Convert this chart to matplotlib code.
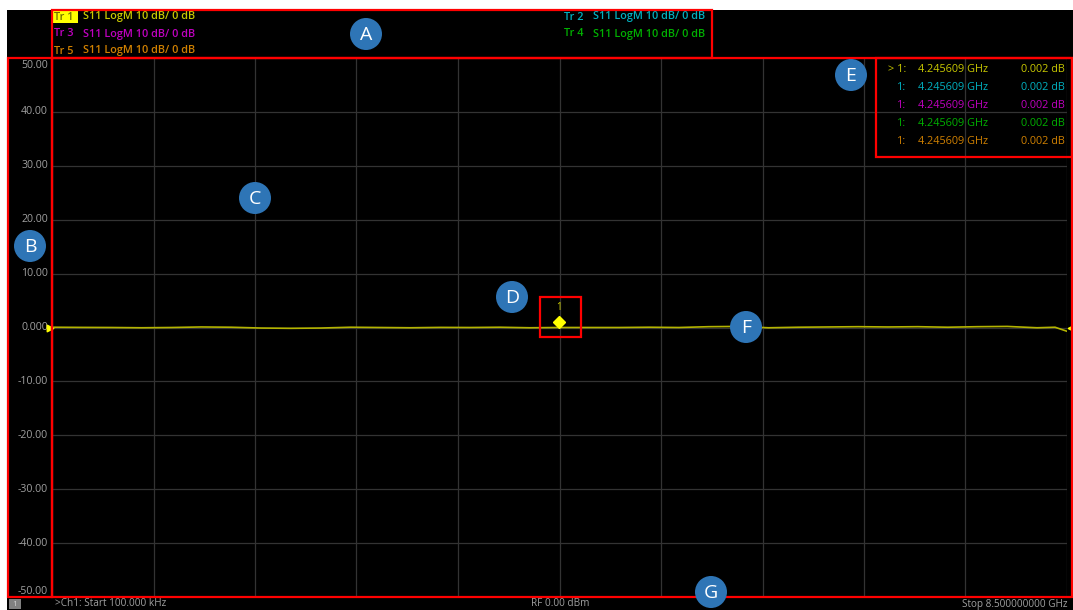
import matplotlib
matplotlib.use("Agg")
import matplotlib.pyplot as plt
from matplotlib.patches import Rectangle, Circle
from matplotlib.transforms import offset_copy

plt.rcParams["font.family"] = ["Open Sans", "DejaVu Sans"]

W, H = 1073, 610

# trace data (S11 LogM, dB)
freq_ghz = [0.0001, 0.25, 0.5, 0.75, 1.0, 1.25, 1.5, 1.75, 2.0, 2.25, 2.5, 2.75,
            3.0, 3.25, 3.5, 3.75, 4.0, 4.245609, 4.5, 4.75, 5.0, 5.25, 5.5, 5.75,
            6.0, 6.25, 6.5, 6.75, 7.0, 7.25, 7.5, 7.75, 8.0, 8.25, 8.4, 8.5]
s11_db = [0.05, 0.02, 0.0, -0.05, 0.0, 0.1, 0.05, -0.1, -0.15, -0.1, 0.05, 0.0,
          -0.05, 0.02, 0.0, 0.05, -0.05, 0.002, 0.0, 0.0, 0.05, 0.0, 0.15, 0.2,
          -0.05, 0.05, 0.1, 0.15, 0.1, 0.15, 0.05, 0.15, 0.2, -0.05, 0.05, -0.7]

y_ticks = [50, 40, 30, 20, 10, 0, -10, -20, -30, -40, -50]
y_labels = ["50.00", "40.00", "30.00", "20.00", "10.00", "0.000",
            "-10.00", "-20.00", "-30.00", "-40.00", "-50.00"]

traces = ["Tr 1", "Tr 2", "Tr 3", "Tr 4", "Tr 5"]
trace_colors = ["#c8c800", "#00b0c0", "#c000c0", "#00b000", "#d08000"]
trace_desc = "S11 LogM 10 dB/ 0 dB"

marker_freq = "4.245609 GHz"
marker_val = "0.002 dB"

tags = ["A", "B", "C", "D", "E", "F", "G"]
tag_xy = [(366, 34), (30, 246), (255, 198), (512, 297), (851, 75), (746, 327), (711, 592)]

fig = plt.figure(figsize=(W / 100, H / 100), dpi=100)
fig.patch.set_facecolor("white")

# black instrument panel behind everything
panel = fig.add_axes([0, 0, 1, 1], zorder=-1)
panel.set_xlim(0, W)
panel.set_ylim(H, 0)
panel.axis("off")
panel.add_patch(Rectangle((7, 10), W - 7, H - 10, facecolor="black", edgecolor="none"))

# main plot
x0, x1, y0, y1 = 52, 1067, 58, 597
ax = fig.add_axes([x0 / W, (H - y1) / H, (x1 - x0) / W, (y1 - y0) / H])
ax.set_facecolor("black")
ax.set_xlim(0, 8.5)
ax.set_ylim(-50, 50)
ax.set_xticks([i * 0.85 for i in range(11)])
ax.set_yticks(y_ticks)
ax.grid(True, color="#333333", lw=0.9)
ax.tick_params(length=0, labelbottom=False, labelleft=False)
for s in ax.spines.values():
    s.set_visible(False)
ax.plot(freq_ghz, s11_db, color="#b4b400", lw=1.2, solid_joinstyle="round")

# marker 1
mk = offset_copy(ax.transData, fig=fig, x=0, y=5, units="dots")
ax.plot([4.245609], [0.002], marker="D", ms=6, color="#ffff00", transform=mk, clip_on=False)
ax.text(4.245609, 0.002, "1", transform=offset_copy(ax.transData, fig=fig, x=0, y=20, units="dots"),
        ha="center", va="center", fontsize=7, color="#c8c800")

# overlay axes in pixel coordinates
bg = fig.add_axes([0, 0, 1, 1], zorder=3)
bg.set_xlim(0, W)
bg.set_ylim(H, 0)
bg.axis("off")

# y tick labels
for v, lab in zip(y_ticks, y_labels):
    py = y1 - (v + 50) / 100 * (y1 - y0)
    if v == 50:
        py += 7
    elif v == -50:
        py -= 5
    bg.text(48, py, lab, ha="right", va="center", fontsize=7.6, color="#a0a0a0")

# reference level arrows
yref = y1 - 0.5 * (y1 - y0)
bg.scatter([50], [yref], marker=">", s=22, color="#ffff00", zorder=5)
bg.scatter([1071], [yref], marker="<", s=22, color="#ffff00", zorder=5)

# trace legend
fs = 7.8
rows = [(traces[0], trace_colors[0], 54, 17), (traces[2], trace_colors[2], 54, 34),
        (traces[4], trace_colors[4], 54, 51), (traces[1], trace_colors[1], 564, 17),
        (traces[3], trace_colors[3], 564, 34)]
for name, col, lx, ly in rows:
    if name == "Tr 1":
        bg.add_patch(Rectangle((52, 11), 26, 12, facecolor="#ffff00", edgecolor="none"))
        bg.text(lx, ly, name, ha="left", va="center", fontsize=fs, color="#707000", weight="semibold")
    else:
        bg.text(lx, ly, name, ha="left", va="center", fontsize=fs, color=col, weight="semibold")
    bg.text(lx + 29, ly, trace_desc, ha="left", va="center", fontsize=fs, color=col, weight="semibold")

# marker table
for i, col in enumerate(trace_colors):
    ty = 69 + i * 18
    bg.text(906, ty, "> 1:" if i == 0 else "1:", ha="right", va="center", fontsize=fs, color=col)
    bg.text(918, ty, marker_freq, ha="left", va="center", fontsize=fs, color=col)
    bg.text(1065, ty, marker_val, ha="right", va="center", fontsize=fs, color=col)

# status bar
bg.add_patch(Rectangle((9, 599), 12, 10, facecolor="#808080", edgecolor="none"))
bg.text(15, 604, "1", ha="center", va="center", fontsize=6, color="#d0d0d0")
bg.text(55, 604, ">Ch1: Start 100.000 kHz", ha="left", va="center", fontsize=7.2, color="#a0a0a0")
bg.text(531, 604, "RF 0.00 dBm", ha="left", va="center", fontsize=7.2, color="#a0a0a0")
bg.text(1068, 604, "Stop 8.500000000 GHz", ha="right", va="center", fontsize=7.2, color="#a0a0a0")

# annotation boxes (red)
red = dict(facecolor="none", edgecolor="#ff0000", lw=1.6, zorder=6)
bg.add_patch(Rectangle((52, 10), 660, 48, **red))
bg.add_patch(Rectangle((8, 58), 44, 539, **red))
bg.add_patch(Rectangle((52, 58), 1020, 539, **red))
bg.add_patch(Rectangle((876, 58), 196, 99, **red))
bg.add_patch(Rectangle((540, 297), 41, 40, **red))

# annotation tags
for t, (cx, cy) in zip(tags, tag_xy):
    bg.add_patch(Circle((cx, cy), 16, facecolor="#2e75b6", edgecolor="none", zorder=7))
    bg.text(cx, cy + 1, t, ha="center", va="center", fontsize=14, color="white", zorder=8)

fig.savefig("out.png", dpi=100, facecolor="white")
